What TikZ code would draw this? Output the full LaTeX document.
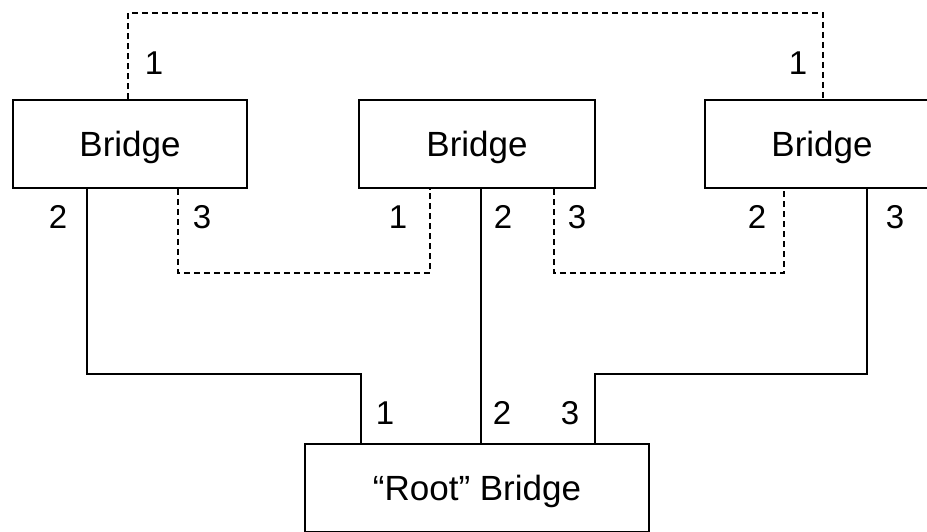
\documentclass[tikz,border=0pt]{standalone}
\usepackage{fontspec}
\setmainfont{Liberation Sans}
\begin{document}
\begin{tikzpicture}[x=1pt,y=-1pt,
  bridgebox/.style={draw,line width=1.6pt,inner sep=0pt,minimum height=88pt,
    text height=25pt,text depth=0pt,font=\fontsize{35}{40}\selectfont},
  port/.style={inner sep=0pt,font=\fontsize{33}{38}\selectfont},
  wire/.style={line width=1.6pt},
  backup/.style={line width=1.4pt,dash pattern=on 6pt off 4pt}]
\useasboundingbox (0,0) rectangle (927,531);
\clip (0,0) rectangle (927,531);

% bridges
\node[bridgebox,minimum width=234pt] (L) at (130,144) {Bridge};
\node[bridgebox,minimum width=236pt] (M) at (477,144) {Bridge};
\node[bridgebox,minimum width=234pt] (R) at (822,144) {Bridge};
\node[bridgebox,minimum width=344pt] (Root) at (477,488) {“Root” Bridge};

% blocked (dashed) links
\draw[backup] (L.north -| 128,0) -- (128,13) -| (R.north -| 823,0);
\draw[backup] (L.south -| 178,0) -- (178,273) -| (M.south -| 430,0);
\draw[backup] (M.south -| 554,0) -- (554,273) -| (R.south -| 784,0);

% active links to the root
\draw[wire] (L.south -| 87,0) -- (87,374) -| (Root.north -| 361,0);
\draw[wire] (M.south -| 481,0) -- (Root.north -| 481,0);
\draw[wire] (R.south -| 867,0) -- (867,374) -| (Root.north -| 595,0);

% port numbers
\node[port] (pL1) at (154,63) {1};
\node[port] (pR1) at (798,63) {1};
\node[port] (pL2) at (58,217) {2};
\node[port] (pL3) at (202,217) {3};
\node[port] (pM1) at (398,217) {1};
\node[port] (pM2) at (503,217) {2};
\node[port] (pM3) at (577,217) {3};
\node[port] (pR2) at (757,217) {2};
\node[port] (pR3) at (895,217) {3};
\node[port] (pT1) at (385,413) {1};
\node[port] (pT2) at (502,413) {2};
\node[port] (pT3) at (570,413) {3};
\end{tikzpicture}
\end{document}
